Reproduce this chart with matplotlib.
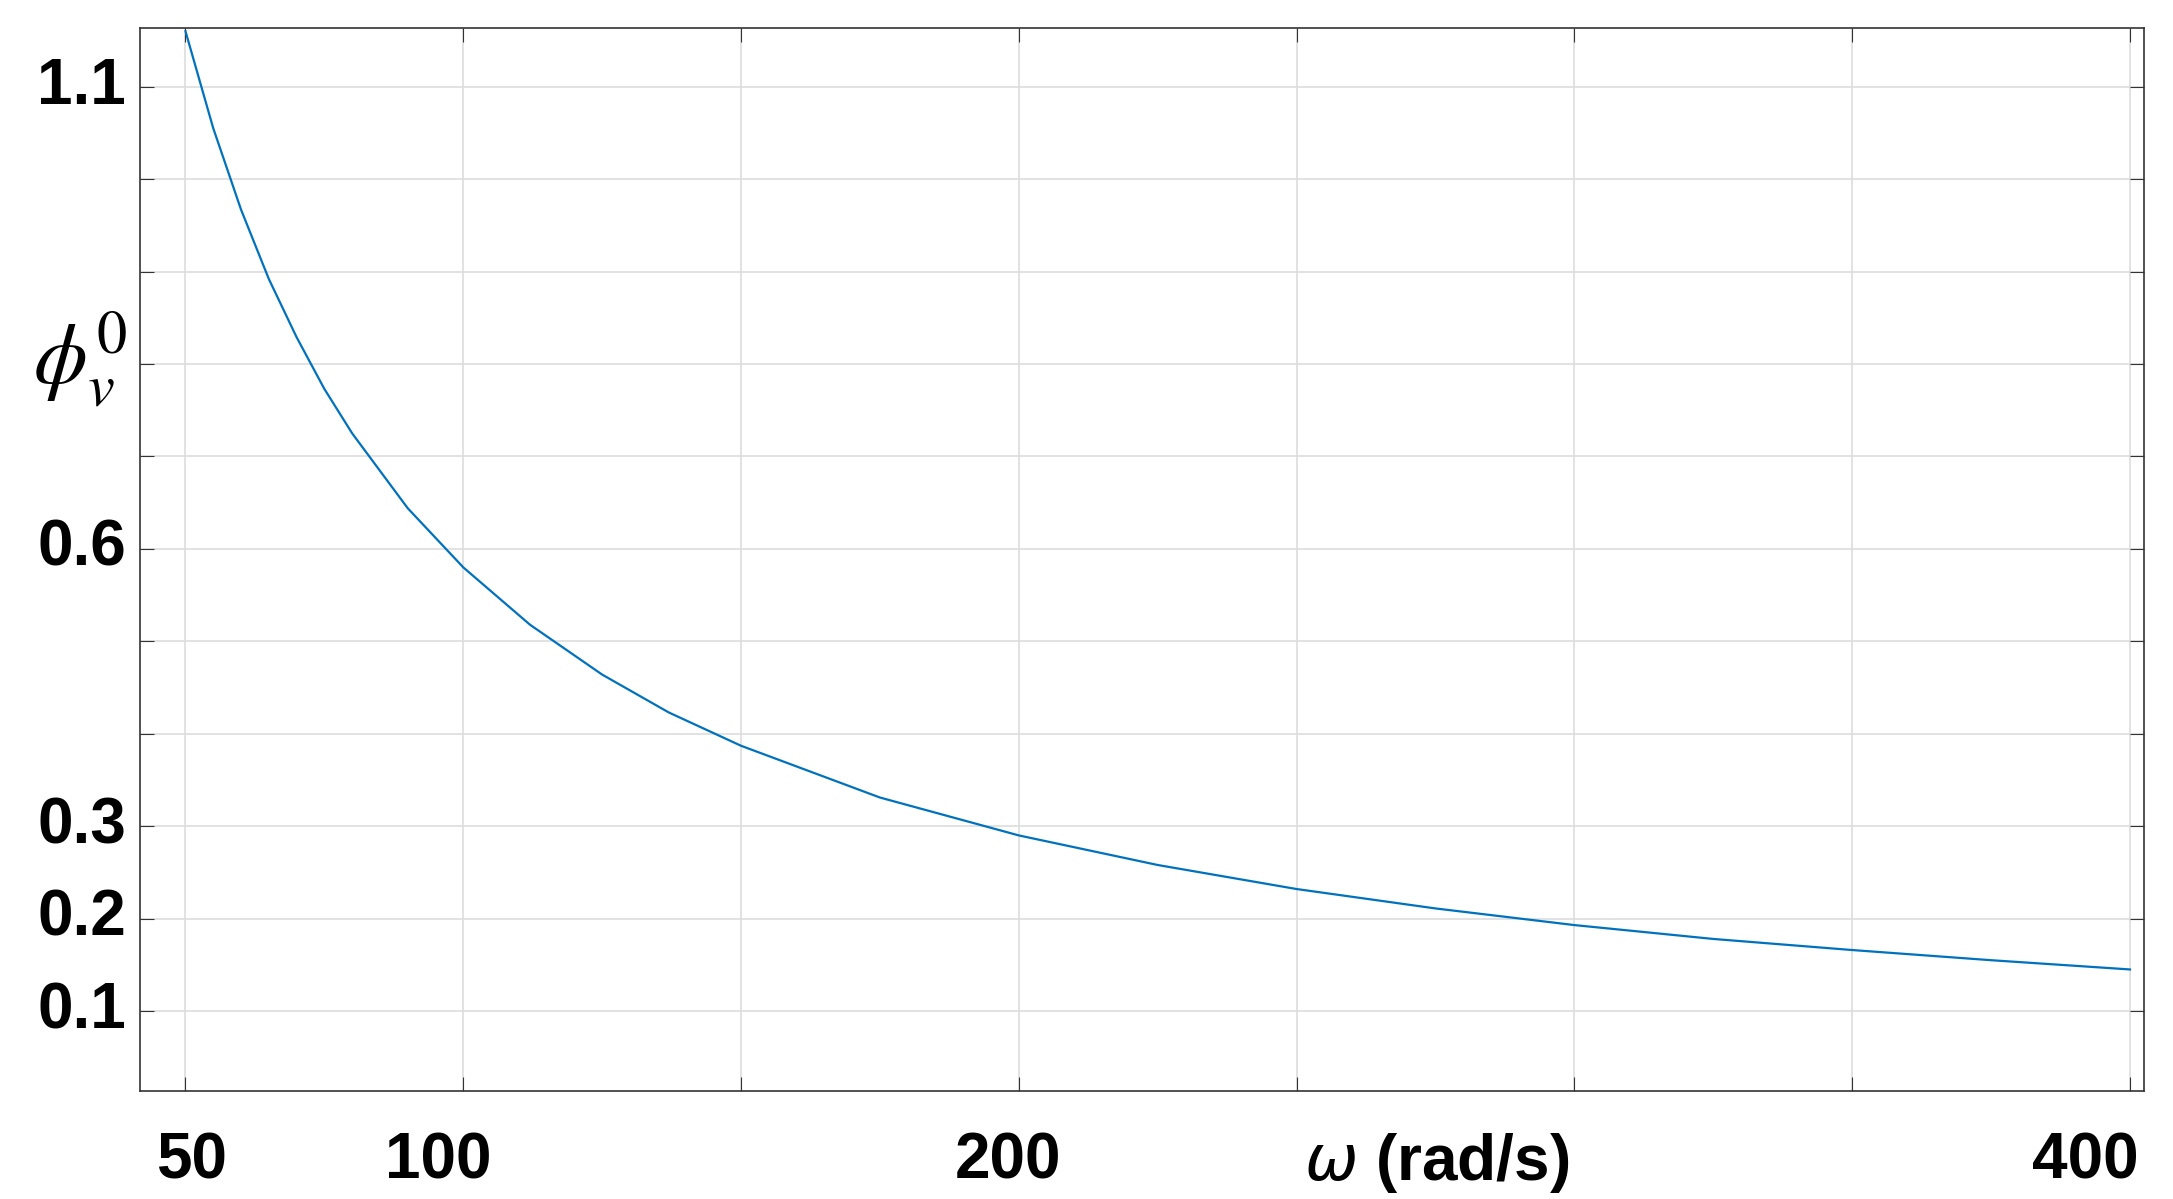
import matplotlib
matplotlib.use("Agg")
import matplotlib.pyplot as plt
import numpy as np

omega = [50, 55, 60, 65, 70, 75, 80, 90, 100, 112, 125, 137, 150, 175, 200, 225, 250, 275, 300, 325, 350, 375, 400]
phi = [1.16, 1.055, 0.967, 0.892, 0.829, 0.773, 0.725, 0.644, 0.58, 0.518, 0.464, 0.423, 0.387, 0.331, 0.29, 0.258, 0.232, 0.211, 0.193, 0.178, 0.166, 0.155, 0.145]
xtick_vals = [50, 100, 200, 400]
ytick_vals = [1.1, 0.6, 0.3, 0.2, 0.1]

fig = plt.figure(figsize=(21.73, 11.99), dpi=100)
ax = fig.add_axes([0.0644, 0.090, 0.9222, 0.887])
ax.plot(omega, phi, color="#0072BD", lw=1.6)
ax.set_xlim(41.8, 402.5)
ax.set_ylim(0.0134, 1.164)
ax.set_xticks(np.arange(50, 401, 50))
ax.set_yticks(np.arange(0.1, 1.15, 0.1))
ax.set_xticklabels([]); ax.set_yticklabels([])
ax.grid(True, color="#DDDDDD", lw=1.2)
ax.tick_params(direction="in", length=10, top=True, right=True, color="#333333")
for s in ax.spines.values():
    s.set_color("#333333"); s.set_linewidth(1.2)

fp = dict(family="Liberation Sans", weight="bold", fontsize=46)
xpos = {50: 51, 100: 95.5, 200: 198, 400: 392}
for v in xtick_vals:
    ax.text(xpos[v], -0.03, str(v), ha="center", va="top", transform=ax.transData, **fp)
for v in ytick_vals:
    ax.text(0.057, v, str(v), ha="right", va="center",
            transform=ax.get_yaxis_transform(), **fp) if False else None
    fig.text(0.058, ax.transData.transform((0, v))[1] / fig.bbox.height, str(v),
             ha="right", va="center", **fp)
fig.text(0.6, 0.03, r"$\omega$ (rad/s)", ha="left", va="center", **fp)
fig.text(0.015, 0.70, r"$\phi_v^0$", ha="left", va="center", fontsize=62,
         family="DejaVu Serif", math_fontfamily="stix")
fig.savefig("out.png", dpi=100)
